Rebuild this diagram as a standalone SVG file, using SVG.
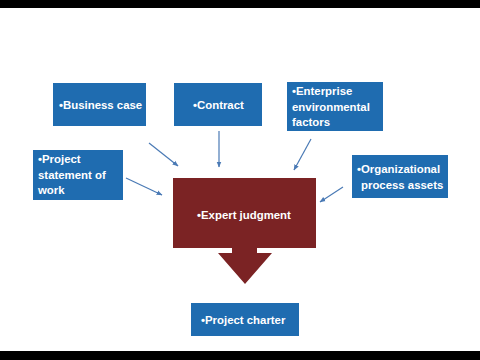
<svg xmlns="http://www.w3.org/2000/svg" width="480" height="360" viewBox="0 0 480 360">
<defs>
<style>
.box{fill:#1f6cb0}
.t{font-family:"Liberation Sans",Arial,sans-serif;font-weight:bold;font-size:11.4px;fill:#ffffff}
.c{stroke:#4a7ab5;stroke-width:1.2;fill:none;marker-end:url(#ah)}
</style>
<marker id="ah" viewBox="0 0 10 10" refX="9" refY="5" markerWidth="6" markerHeight="6" orient="auto" markerUnits="userSpaceOnUse">
<path d="M0,1 L10,5 L0,9 z" fill="#4a7ab5"/>
</marker>
</defs>
<rect x="0" y="0" width="480" height="360" fill="#ffffff"/>
<rect x="0" y="0" width="480" height="8" fill="#000000"/>
<rect x="0" y="351" width="480" height="9" fill="#000000"/>
<g id="connectors">
<line class="c" x1="149" y1="143" x2="178" y2="166"/>
<line class="c" x1="219" y1="131" x2="219" y2="167"/>
<line class="c" x1="126" y1="178" x2="162" y2="195"/>
<line class="c" x1="311" y1="139" x2="294" y2="170"/>
<line class="c" x1="343" y1="187" x2="320" y2="202"/>
</g>
<g id="business-case">
<rect class="box" x="53" y="83" width="93" height="43"/>
<text class="t" x="59" y="109">•Business case</text>
</g>
<g id="contract">
<rect class="box" x="174" y="83" width="88" height="43"/>
<text class="t" x="193" y="109">•Contract</text>
</g>
<g id="enterprise">
<rect class="box" x="287" y="82" width="96" height="49"/>
<text class="t" x="292" y="95">•Enterprise</text>
<text class="t" x="292" y="110.5">environmental</text>
<text class="t" x="292" y="126">factors</text>
</g>
<g id="project-statement">
<rect class="box" x="33" y="150" width="90" height="50"/>
<text class="t" x="38" y="163">•Project</text>
<text class="t" x="38" y="178.5">statement of</text>
<text class="t" x="38" y="194">work</text>
</g>
<g id="organizational">
<rect class="box" x="352" y="155" width="96" height="43"/>
<text class="t" x="357" y="173">•Organizational</text>
<text class="t" x="361" y="189">process assets</text>
</g>
<g id="expert-judgment">
<path d="M173,178 H316 V248 H257 V253 H272 L245,284 L218,253 H232 V248 H173 Z" fill="#7b2324"/>
<text class="t" x="197" y="219">•Expert judgment</text>
</g>
<g id="project-charter">
<rect class="box" x="191" y="303" width="108" height="33"/>
<text class="t" x="201" y="324">•Project charter</text>
</g>
</svg>
